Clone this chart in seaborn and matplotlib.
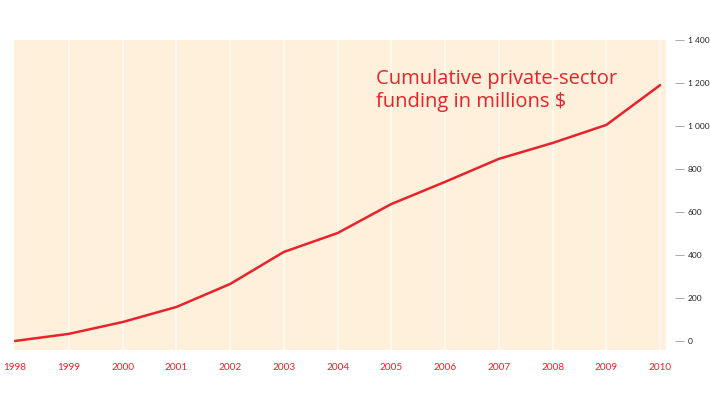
import pandas as pd
import matplotlib.pyplot as plt
import seaborn as sns

# chart data
years = [1998, 1999, 2000, 2001, 2002, 2003, 2004, 2005, 2006, 2007, 2008, 2009, 2010]
funding = [0, 33, 88, 158, 265, 414, 502, 637, 740, 847, 921, 1005, 1190]
y_ticks = [0, 200, 400, 600, 800, 1000, 1200, 1400]
y_labels = ['0', '200', '400', '600', '800', '1 000', '1 200', '1 400']

df = pd.DataFrame({'Year': years, 'Funding': funding})

sns.set_theme(style="white")
plt.rcParams['font.family'] = ['Open Sans', 'DejaVu Sans']
narrow = ['Liberation Sans Narrow', 'Lato', 'DejaVu Sans']

red = '#E8232B'
fig = plt.figure(figsize=(7.1, 3.95), dpi=100)
ax = fig.add_axes([14 / 710, 45 / 395, 652 / 710, 310 / 395])
ax.set_facecolor('#FEF0DA')

sns.lineplot(data=df, x='Year', y='Funding', color=red, linewidth=1.8, ax=ax)

ax.set_xlim(1997.98, 2010.11)
ax.set_ylim(-42, 1400)

# faint white vertical grid lines at each year
for yr in years[1:]:
    ax.axvline(yr, color='white', linewidth=1.1, alpha=0.8, zorder=0.5)

ax.set_xticks(years)
ax.set_xticklabels([str(y) for y in years])
ax.tick_params(axis='x', length=0, pad=9)

ax.yaxis.tick_right()
ax.spines['right'].set_position(('outward', 6.5))
ax.set_yticks(y_ticks)
ax.set_yticklabels(y_labels)
ax.tick_params(axis='y', left=False, right=True, labelleft=False, labelright=True,
               length=6.5, width=0.6, color='#999999', pad=2.5)

# fonts for tick labels, applied last so nothing resets them
for t in ax.get_xticklabels():
    t.set_fontsize(7.2)
    t.set_color(red)
    t.set_family(narrow)
for t in ax.yaxis.get_ticklabels(which='major') + [tk.label2 for tk in ax.yaxis.get_major_ticks()]:
    t.set_fontsize(6)
    t.set_color('#222222')
    t.set_family(narrow)

for s in ax.spines.values():
    s.set_visible(False)

ax.set_xlabel('')
ax.set_ylabel('')

ax.text(0.555, 0.905, 'Cumulative private-sector\nfunding in millions $',
        transform=ax.transAxes, color=red, fontsize=14.5, va='top', ha='left',
        linespacing=1.15)

fig.savefig('out.png', dpi=100)
